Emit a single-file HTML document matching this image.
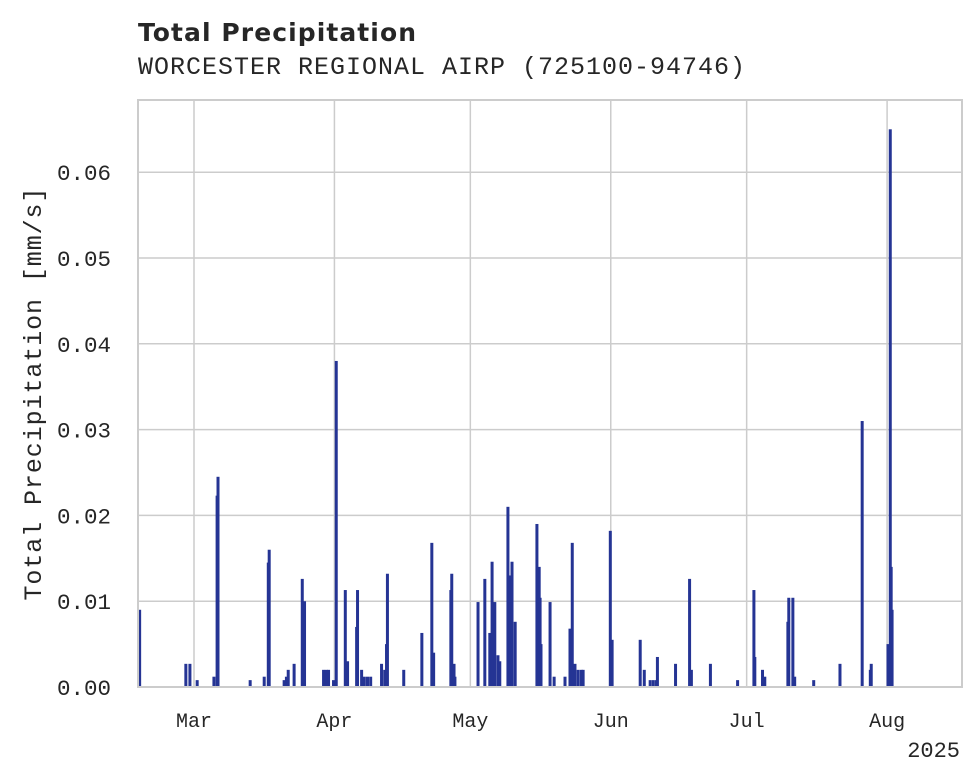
<!DOCTYPE html>
<html><head><meta charset="utf-8"><style>
html,body{margin:0;padding:0;background:#fff;width:980px;height:783px;overflow:hidden}
text{font-family:"Liberation Mono","DejaVu Sans Mono",monospace;fill:#262626}
</style></head><body>
<svg id="chart" width="980" height="783" xmlns="http://www.w3.org/2000/svg">
<text x="138" y="41" textLength="278" style="font-family:'DejaVu Sans','Liberation Sans',sans-serif;font-weight:bold;font-size:25px">Total Precipitation</text>
<text x="138" y="74" textLength="607" style="font-size:25px">WORCESTER REGIONAL AIRP (725100-94746)</text>
<g id="grid"></g><g id="bars"></g><g id="axes"></g>
<text transform="translate(41,394) rotate(-90)" text-anchor="middle" textLength="413" style="font-size:25px">Total Precipitation [mm/s]</text>
<text x="960" y="757" text-anchor="end" style="font-size:22px">2025</text>
</svg>
<script>
const dayOffsets=[-12.0,-1.8,-0.9,0.7,4.4,5.1,5.3,12.4,15.5,16.4,16.6,19.9,20.4,20.8,22.1,23.9,24.4,28.6,29.2,29.7,30.8,31.4,33.4,33.9,35.9,36.1,37.0,37.6,38.3,39.0,41.4,42.1,42.5,42.7,46.3,50.3,52.5,52.9,56.7,56.9,57.4,57.6,62.7,64.2,65.3,65.8,66.4,67.1,67.5,69.3,69.8,70.2,70.9,75.7,76.2,76.4,76.6,78.6,79.5,81.9,83.0,83.5,84.1,84.8,85.5,85.9,91.9,92.3,98.5,99.4,100.7,101.4,102.1,102.3,106.3,109.4,109.8,114.0,120.0,123.6,123.8,125.5,126.0,131.1,131.3,132.2,132.6,136.8,142.6,147.5,149.3,149.5,153.2,153.7,153.9,154.1];
const precipValues=[0.009,0.0027,0.0027,0.0008,0.0012,0.0223,0.0245,0.0008,0.0012,0.0145,0.016,0.0008,0.0012,0.002,0.0027,0.0126,0.01,0.002,0.002,0.002,0.0008,0.038,0.0113,0.003,0.007,0.0113,0.002,0.0012,0.0012,0.0012,0.0027,0.002,0.005,0.0132,0.002,0.0063,0.0168,0.004,0.0113,0.0132,0.0027,0.0012,0.0099,0.0126,0.0063,0.0146,0.0099,0.0037,0.003,0.021,0.013,0.0146,0.0076,0.019,0.014,0.0104,0.005,0.0099,0.0012,0.0012,0.0068,0.0168,0.0027,0.002,0.002,0.002,0.0182,0.0055,0.0055,0.002,0.0008,0.0008,0.0008,0.0035,0.0027,0.0126,0.002,0.0027,0.0008,0.0113,0.0035,0.002,0.0012,0.0076,0.0104,0.0104,0.0012,0.0008,0.0027,0.031,0.002,0.0027,0.005,0.065,0.014,0.009];
const monthTicks=[0,31,61,92,122,153];
const monthLabels=["Mar","Apr","May","Jun","Jul","Aug"];
const yTicks=[0,0.01,0.02,0.03,0.04,0.05,0.06];
const yTickLabels=["0.00","0.01","0.02","0.03","0.04","0.05","0.06"];
const L=138,R=962,T=100,B=687;
const xs=d=>194+d*4.53;
const ys=v=>B-v*8580;
const NS="http://www.w3.org/2000/svg";
function mk(tag,attrs,parent){const e=document.createElementNS(NS,tag);for(const k in attrs)e.setAttribute(k,attrs[k]);parent.appendChild(e);return e;}
const grid=document.getElementById('grid'),bars=document.getElementById('bars'),axes=document.getElementById('axes');
yTicks.forEach((v,i)=>{
 const l=mk('line',{x1:L,x2:R,y1:ys(v),y2:ys(v),stroke:'#cccccc','stroke-width':1.5},grid);
 
 
 const t=mk('text',{x:L-27,y:ys(v)+8,'text-anchor':'end','font-size':22.5},axes);
 t.textContent=yTickLabels[i];
 
 
});
monthTicks.forEach((d,i)=>{
 const l=mk('line',{x1:xs(d),x2:xs(d),y1:T,y2:B,stroke:'#cccccc','stroke-width':1.5},grid);
 
 
 const t=mk('text',{x:xs(d),y:727,'text-anchor':'middle','font-size':20},axes);
 t.textContent=monthLabels[i];
 
 
});
dayOffsets.forEach((d,i)=>{
 const v=precipValues[i];
 const r=mk('rect',{x:xs(d)-1.5,y:ys(v),width:3,height:B-ys(v),fill:'#253494'},bars);
 
 
});
const f=mk('rect',{x:L,y:T,width:R-L,height:B-T,fill:'none',stroke:'#cccccc','stroke-width':2},axes);


</script>
</body></html>
